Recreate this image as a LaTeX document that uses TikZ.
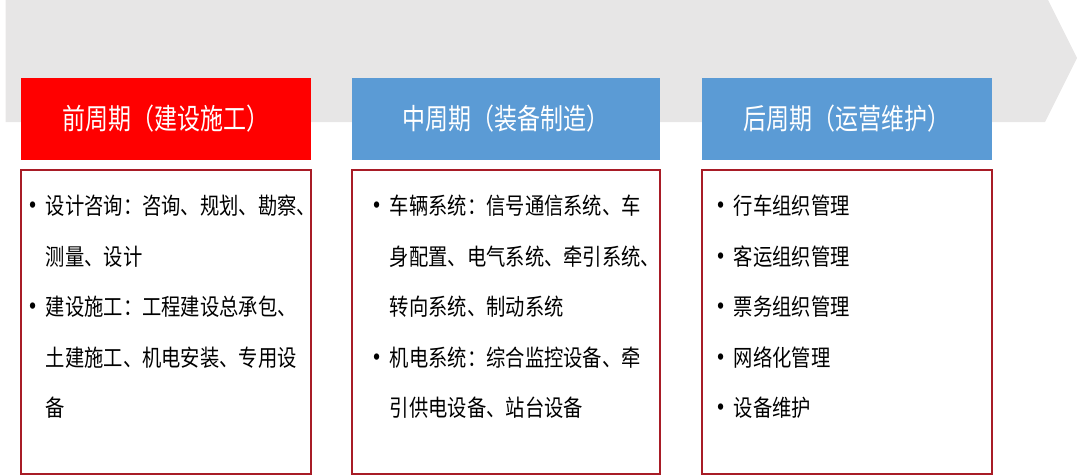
\documentclass[tikz,border=0pt]{standalone}
\usepackage{fontspec}
\setmainfont{Noto Sans CJK SC}
\usetikzlibrary{positioning}
\definecolor{headred}{RGB}{255,0,0}
\definecolor{headblue}{RGB}{91,155,213}
\definecolor{bandgrey}{RGB}{231,230,230}
\definecolor{boxred}{RGB}{168,28,38}
\newcommand{\blt}{\makebox[23.7pt][l]{\hspace*{-1.5pt}\raisebox{-1.6pt}{\scalebox{1.3}{\textbullet}}}}
\newcommand{\ind}{\hspace*{23.7pt}}
\newcommand{\headtext}[1]{\scalebox{1}[1.25]{#1}}

\begin{document}
\begin{tikzpicture}[x=1pt, y=-1pt]
  \tikzset{headbox/.style={text=white, minimum height=82pt, inner sep=0pt,
             font=\fontsize{23}{26}\selectfont},
           bodybox/.style={draw=boxred, line width=2pt, fill=white,
             minimum height=304pt, inner sep=0pt},
           bodytext/.style={align=left, anchor=north west, inner sep=0pt,
             yscale=1.2, transform shape,
             font=\fontsize{19.3}{42.1}\selectfont}}
  \useasboundingbox (0,0) rectangle (1080,475);
  % grey arrow band
  \fill[bandgrey] (5.7,-10) -- (1043,-10) -- (1077,58) -- (1045,122) -- (5.7,122) -- cycle;
  % heads
  \node[headbox, fill=headred, minimum width=290pt] (head1) at (165.7,119) {\headtext{前周期（建设施工）}};
  \node[headbox, fill=headblue, minimum width=308pt] (head2) at (505.8,119) {\headtext{中周期（装备制造）}};
  \node[headbox, fill=headblue, minimum width=290pt] (head3) at (847,119) {\headtext{后周期（运营维护）}};
  % bodies
  \node[bodybox, minimum width=290pt, below=9pt of head1] (body1) {};
  \node[bodybox, minimum width=308pt, below=9pt of head2] (body2) {};
  \node[bodybox, minimum width=290pt, below=9pt of head3] (body3) {};
  \node[bodytext] (list1) at (22,195) {\blt 设计咨询：咨询、规划、勘察、\\
    \ind 测量、设计\\
    \blt 建设施工：工程建设总承包、\\
    \ind 土建施工、机电安装、专用设\\
    \ind 备};
  \node[bodytext] (list2) at (366,195) {\blt 车辆系统：信号通信系统、车\\
    \ind 身配置、电气系统、牵引系统、\\
    \ind 转向系统、制动系统\\
    \blt 机电系统：综合监控设备、牵\\
    \ind 引供电设备、站台设备};
  \node[bodytext] (list3) at (710,195) {\blt 行车组织管理\\
    \blt 客运组织管理\\
    \blt 票务组织管理\\
    \blt 网络化管理\\
    \blt 设备维护};
\end{tikzpicture}
\end{document}
